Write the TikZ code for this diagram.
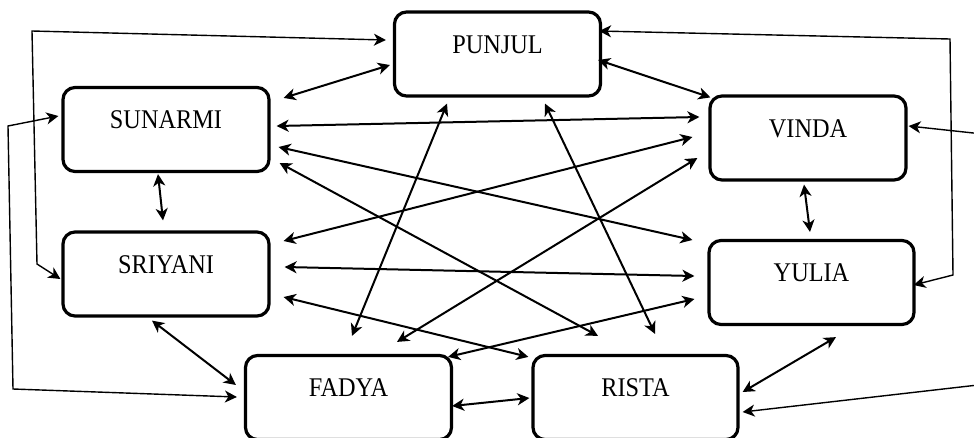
\documentclass[tikz,border=0pt]{standalone}
\usepackage{fontspec}
\setmainfont[FakeStretch=0.9]{Liberation Serif}
\usetikzlibrary{arrows.meta,calc}

\begin{document}
\begin{tikzpicture}[x=1pt,y=-1pt]
    % `person' is used for the name boxes.
    % `link' is used for the double arrows between two boxes.
    % `route' is used for the long arrows round the outside.
    \tikzset{barb/.tip={Stealth[length=12pt,width=12pt,inset=3.5pt]}}
    \tikzstyle{person} = [draw,line width=3.2pt,rounded corners=12pt,minimum width=206pt,minimum height=84pt,inner sep=0pt,text height=41pt,text depth=43pt,font=\fontsize{27}{30}\selectfont]
    \tikzstyle{link} = [line width=2pt,barb-barb]
    \tikzstyle{route} = [line width=1.4pt,barb-barb]
    \useasboundingbox (0,0) rectangle (974,437);
    %
    \node[person] (punjul) at (497.5,54) {PUNJUL};
    \node[person] (sunarmi) at (166,129.5) {SUNARMI};
    \node[person,minimum width=196pt] (vinda) at (808,138) {VINDA};
    \node[person] (sriyani) at (166,274) {SRIYANI};
    \node[person,minimum width=205pt] (yulia) at (811.5,282.5) {YULIA};
    \node[person] (fadya) at (348.5,397.5) {FADYA};
    \node[person,minimum width=205pt] (rista) at (635.5,397.5) {RISTA};
    %
    % corners of the outside routes
    \coordinate (left1) at (32,31);   \coordinate (left2) at (37,264);
    \coordinate (left3) at (8,126);   \coordinate (left4) at (13,389);
    \coordinate (right1) at (950,39); \coordinate (right2) at (953,275);
    \coordinate (right3) at (978,133.5); \coordinate (right4) at (978,385);
    %
    % Draw links between boxes.
    \draw[link] ($(sunarmi.north east)+(13,12)$) -- ($(punjul.west)+(-3,11)$);
    \draw[link] ($(punjul.east)+(-4,6)$) -- ($(vinda.north west)+(2,3)$);
    \draw[link] ($(punjul.south)+(-50.5,6)$) -- ($(fadya.north)+(3.5,-18)$);
    \draw[link] ($(punjul.south)+(47.5,6)$) -- ($(rista.north)+(19.5,-20)$);
    \draw[link] ($(sunarmi.east)+(6,-3.5)$) -- ($(vinda.west)+(-9,-21)$);
    \draw[link] ($(sunarmi.east)+(8,17.5)$) -- ($(yulia.west)+(-15,-42.5)$);
    \draw[link] ($(sunarmi.east)+(9,33.5)$) -- ($(rista.north)+(-37.5,-18)$);
    \draw[link] ($(sriyani.east)+(13,-33)$) -- ($(vinda.west)+(-16,-1)$);
    \draw[link] ($(fadya.north)+(48.5,-12)$) -- ($(vinda.west)+(-11,20)$);
    \draw[link] ($(sriyani.east)+(14,-7)$) -- ($(yulia.west)+(-13,-6.5)$);
    \draw[link] ($(sriyani.east)+(13,23)$) -- ($(rista.north west)+(-3,3)$);
    \draw[link] ($(yulia.west)+(-13,16.5)$) -- ($(fadya.north east)+(-5,3)$);
    \draw[link] ($(vinda.south)+(-4,3)$) -- ($(yulia.north)+(-1.5,-7)$);
    \draw[link] ($(sunarmi.south)+(-8,1)$) -- ($(sriyani.north)+(-3,-10)$);
    \draw[link] ($(sriyani.south)+(-14,3)$) -- ($(fadya.west)+(-8,-12.5)$);
    \draw[link] ($(fadya.east)+(-1,8.5)$) -- ($(rista.west)+(-2,0.5)$);
    \draw[link] ($(rista.east)+(3,-5.5)$) -- ($(yulia.south)+(24.5,11)$);
    %
    % Draw routes round the outside.
    \draw[route] ($(sriyani.west)+(-1,5)$) -- (left2) -- (left1) -- ($(punjul.west)+(-7,-14)$);
    \draw[route] ($(sunarmi.west)+(-3,-13.5)$) -- (left3) -- (left4) -- ($(fadya.west)+(-7,-0.5)$);
    \draw[route] ($(punjul.east)+(-3,-23)$) -- (right1) -- (right2) -- ($(yulia.east)+(-2,2.5)$);
    \draw[route] ($(vinda.east)+(1,-12)$) -- (right3) -- (right4) -- ($(rista.east)+(3,14.5)$);
\end{tikzpicture}
\end{document}
